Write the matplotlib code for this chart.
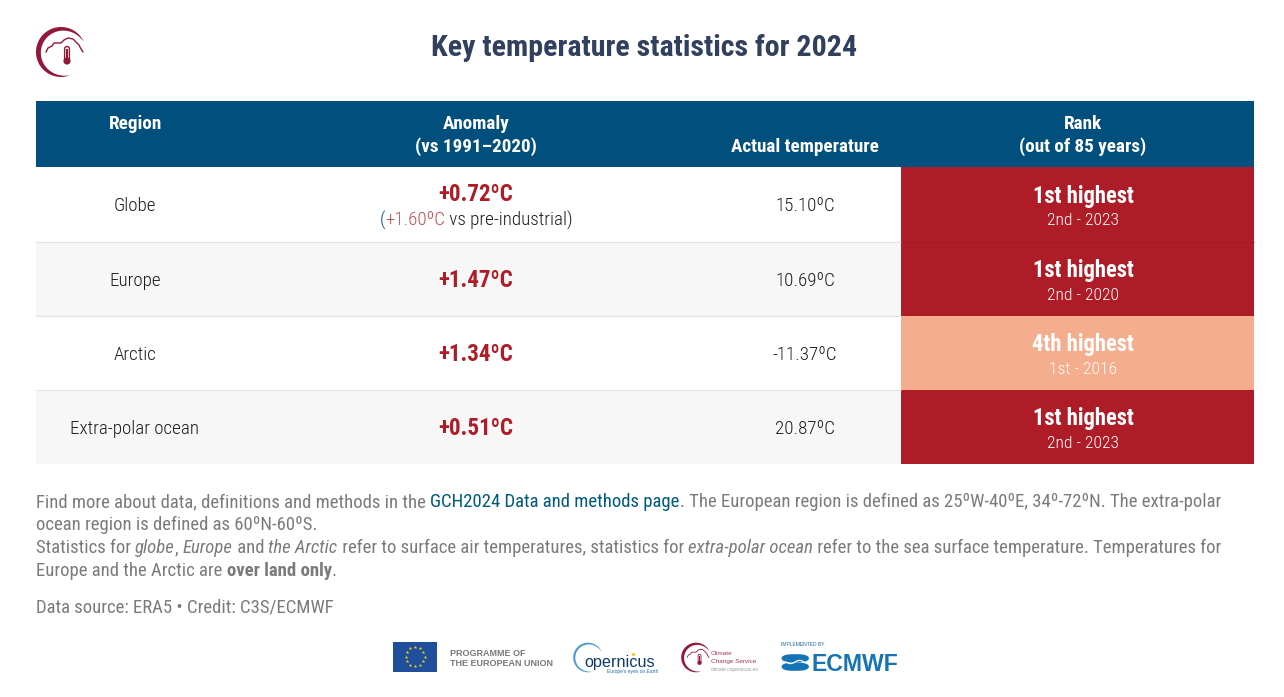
import numpy as np
import matplotlib
matplotlib.use("Agg")
import matplotlib.pyplot as plt
from matplotlib import font_manager as fm
from matplotlib.patches import Rectangle, Polygon, Circle, FancyBboxPatch

names = {f.name for f in fm.fontManager.ttflist}
FONT = next((n for n in ["Roboto Condensed", "Liberation Sans Narrow", "Roboto"] if n in names), "DejaVu Sans")
plt.rcParams["font.family"] = [FONT, "DejaVu Sans"]

TITLE = "Key temperature statistics for 2024"
regions = ["Globe", "Europe", "Arctic", "Extra-polar ocean"]
anomalies = ["+0.72ºC", "+1.47ºC", "+1.34ºC", "+0.51ºC"]
actuals = ["15.10ºC", "10.69ºC", "-11.37ºC", "20.87ºC"]
ranks = ["1st highest", "1st highest", "4th highest", "1st highest"]
seconds = ["2nd - 2023", "2nd - 2020", "1st - 2016", "2nd - 2023"]
rank_colors = ["#ae1d27", "#ae1d27", "#f4ad8d", "#ae1d27"]

NAVY, RED, GREY = "#004f7c", "#ae1d27", "#7b7b7b"
P = 0.72  # px -> pt at dpi 100
LIGHT = 300

fig = plt.figure(figsize=(12.84, 6.97), dpi=100, facecolor="white")
ax = fig.add_axes([0, 0, 1, 1])
ax.set_xlim(0, 1284); ax.set_ylim(697, 0); ax.axis("off")
rend = fig.canvas.get_renderer()


def width(s, **kw):
    a = ax.text(0, 0, "|" + s + "|", **kw); w1 = a.get_window_extent(rend).width; a.remove()
    b = ax.text(0, 0, "||", **kw); w2 = b.get_window_extent(rend).width; b.remove()
    return w1 - w2


def rich(x, y, segs, size, center=False):
    kws = [dict(fontsize=size * P, color=c, fontweight=w, fontstyle=st) for _, c, w, st in segs]
    ws = [width(s[0], **k) for s, k in zip(segs, kws)]
    if center:
        x -= sum(ws) / 2
    for s, k, w in zip(segs, kws, ws):
        ax.text(x, y, s[0], va="center_baseline", ha="left", **k)
        x += w


def T(x, y, s, size, color="black", weight="normal", **kw):
    ax.text(x, y, s, fontsize=size * P, color=color, fontweight=weight,
            ha=kw.pop("ha", "center"), va="center_baseline", **kw)


def crescent(cx, cy, r, a0, a1, wmax, color, n=80, peak=0.8):
    t = np.radians(np.linspace(a0, a1, n))
    w = wmax * np.sin(np.linspace(0, np.pi, n)) ** peak
    out = np.c_[cx + r * np.cos(t), cy - r * np.sin(t)]
    inn = np.c_[cx + (r - w) * np.cos(t), cy - (r - w) * np.sin(t)]
    ax.add_patch(Polygon(np.r_[out, inn[::-1]], closed=True, fc=color, ec="none"))


def climate_logo(cx, cy, r, lw, color="#92193a"):
    crescent(cx, cy, r, 25, 290, r * 0.2, color)
    s = r / 25
    cloud = np.array([[-15, 0], [-13, -4], [-9, -6], [-7, -9], [-3, -9], [0, -9], [3, -12], [7, -14],
                      [12, -13], [15, -10], [18, -7], [20, -3], [22, 0]]) * s
    ax.plot(cx + cloud[:, 0], cy + cloud[:, 1], color=color, lw=lw, solid_capstyle="round")
    tx = cx + 6 * s
    ax.add_patch(FancyBboxPatch((tx - 2.4 * s, cy - 5.5 * s), 4.8 * s, 15 * s,
                                boxstyle=f"round,pad=0,rounding_size={2.4*s}", fc="white", ec=color, lw=lw))
    ax.add_patch(Rectangle((tx - 0.9 * s, cy - 3 * s), 1.8 * s, 10 * s, fc=color, ec="none"))
    ax.add_patch(Circle((tx, cy + 9 * s), 3.6 * s, fc=color, ec="none"))


# ---- header row
ax.add_patch(Rectangle((36, 101), 1218, 66, fc=NAVY, ec="none"))
HB = 19.2
T(135, 122, "Region", HB, "white", "bold")
T(476, 122, "Anomaly", HB, "white", "bold")
T(476, 145, "(vs 1991–2020)", HB, "white", "bold")
T(805, 145, "Actual temperature", HB, "white", "bold")
T(1083, 122, "Rank", HB, "white", "bold")
T(1083, 145, "(out of 85 years)", HB, "white", "bold")

# ---- body rows
tops = [167, 242, 316, 390]
bottoms = [242, 316, 390, 464]
for i, (t, b) in enumerate(zip(tops, bottoms)):
    if i % 2:
        ax.add_patch(Rectangle((36, t), 865, b - t, fc="#f7f7f7", ec="none"))
    ax.add_patch(Rectangle((901, t), 353, b - t, fc=rank_colors[i], ec="none"))
    if i:
        ax.plot([36, 901], [t, t], color="#e3e3e3", lw=0.9, solid_capstyle="butt")
        if i == 1:
            ax.plot([901, 1254], [t, t], color="#a11c26", lw=0.9, solid_capstyle="butt")
    mid = (t + b) / 2 + (-0.2 if i else -0.7)
    T(135, mid, regions[i], 19, "#1c1c1c", LIGHT)
    T(805, mid, actuals[i], 19, "#1c1c1c", LIGHT)
    amid = (t + b) / 2 + (-1.0 if i else -1.5)
    if i == 0:
        T(476, amid - 11, anomalies[i], 23, RED, "bold")
        rich(476, amid + 15, [("(", NAVY, LIGHT, "normal"), ("+1.60ºC", "#c0504d", LIGHT, "normal"),
                              (" vs pre-industrial)", "#1c1c1c", LIGHT, "normal")], 19, center=True)
    else:
        T(476, amid, anomalies[i], 23, RED, "bold")
    T(1083, t + 26.5, ranks[i], 22.6, "white", "bold")
    T(1083, t + 51.7, seconds[i], 17.5, "white", LIGHT)

# ---- title
T(644.5, 45, TITLE, 29.95, "#31405f", "bold")
climate_logo(61, 52, 25, 1.0)

# ---- footnote
FS = 18.75
g = (GREY, "normal", "normal")
lines = [
    (500, [("Find more about data, definitions and methods in the ", *g), ("GCH2024 Data and methods page", "#005a7c", "normal", "normal"),
           (". The European region is defined as 25ºW-40ºE, 34º-72ºN. The extra-polar", *g)]),
    (523, [("ocean region is defined as 60ºN-60ºS.", *g)]),
    (546, [("Statistics for ", *g), ("globe", GREY, "normal", "italic"), (", ", *g), ("Europe", GREY, "normal", "italic"),
           (" and ", *g), ("the Arctic", GREY, "normal", "italic"), (" refer to surface air temperatures, statistics for ", *g),
           ("extra-polar ocean", GREY, "normal", "italic"),
           (" refer to the sea surface temperature. Temperatures for", *g)]),
    (569, [("Europe and the Arctic are ", *g), ("over land only", GREY, "bold", "normal"), (".", *g)]),
    (605, [("Data source: ERA5 • Credit: C3S/ECMWF", *g)]),
]
for y, segs in lines:
    rich(36, y, segs, FS)

# ---- partner logos
ax.add_patch(Rectangle((393, 642), 44, 29.5, fc="#1f4e9c", ec="none"))
ang = np.radians(np.arange(0, 360, 30))
ax.scatter(415 + 9.5 * np.cos(ang), 656.7 + 9.5 * np.sin(ang), marker="*", s=7, c="#f5d90a", linewidths=0)
LOGO = ["Liberation Sans", "DejaVu Sans"]
T(450, 652, "PROGRAMME OF", 9, "#77787b", "bold", ha="left", family=LOGO)
T(450, 662, "THE EUROPEAN UNION", 9, "#77787b", "bold", ha="left", family=LOGO)

crescent(588, 657.5, 14.8, 25, 285, 2.2, "#4f9bd0", peak=0.6)
T(584.5, 661, "opernicus", 16.2, "#103a6b", ha="left", family=LOGO)
ax.scatter([633], [653.5], s=5, c="#f2c81e", linewidths=0, zorder=5)
T(607, 670.5, "Europe's eyes on Earth", 4.9, "#1d6fa8", ha="left", family=LOGO)

climate_logo(696, 657.5, 14.8, 0.6)
T(711, 653, "Climate", 6.4, "#a23a55", ha="left", family=LOGO)
T(711, 661, "Change Service", 6.4, "#a23a55", ha="left", family=LOGO)
T(711, 669.5, "climate.copernicus.eu", 4.9, "#9a9a9a", ha="left", family=LOGO)

T(781, 644.5, "IMPLEMENTED BY", 5, "#1d6fa8", ha="left", family=LOGO)
# ECMWF emblem: two lobes split by a wave
for sgn in (-1, 1):
    xs = np.linspace(781, 808.5, 60)
    u = (xs - 794.75) / 13.75
    half = 8.2 * np.sqrt(1 - np.abs(u) ** 3)
    mids = 662 + sgn * 4.2 + 0 * u
    ax.fill_between(xs, mids - half * 0.5, mids + half * 0.5, color="#1574b5", lw=0)
xs = np.linspace(786, 804, 40)
ax.plot(xs, 662 + 1.6 * np.sin((xs - 786) / 18 * 2 * np.pi), color="white", lw=0.9)
T(811.5, 662, "ECMWF", 23, "#1574b5", "bold", ha="left", family=LOGO)

fig.savefig("out.png", dpi=100, facecolor="white")
